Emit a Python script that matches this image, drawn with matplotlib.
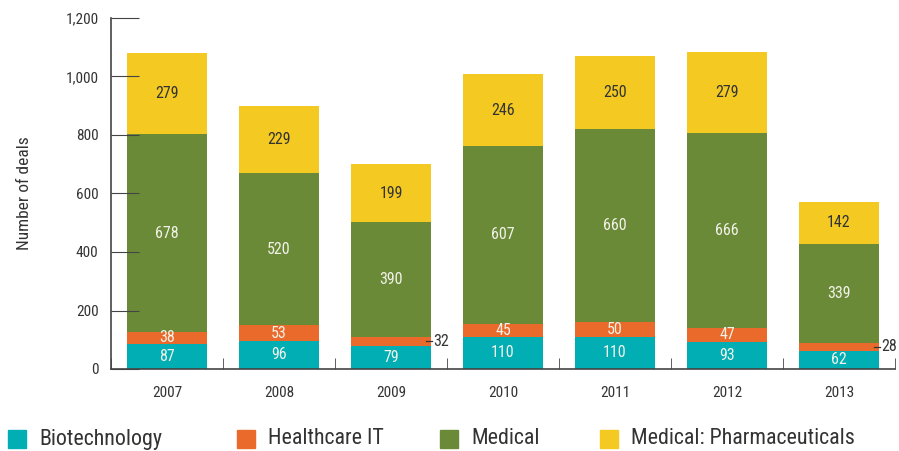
import numpy as np
import matplotlib.pyplot as plt
from matplotlib.patches import Rectangle

plt.rcParams['font.family'] = ['Roboto Condensed', 'Liberation Sans Narrow', 'Roboto', 'DejaVu Sans']

years = ['2007', '2008', '2009', '2010', '2011', '2012', '2013']
biotech = [87, 96, 79, 110, 110, 93, 62]
health_it = [38, 53, 32, 45, 50, 47, 28]
medical = [678, 520, 390, 607, 660, 666, 339]
pharma = [279, 229, 199, 246, 250, 279, 142]

series = [('Biotechnology', biotech, '#00AEB4', '#F2F2EA'),
          ('Healthcare IT', health_it, '#E96A2A', '#F2F2EA'),
          ('Medical', medical, '#6A8A37', '#F2F2EA'),
          ('Medical: Pharmaceuticals', pharma, '#F4CA22', '#333333')]

fig = plt.figure(figsize=(8.99, 4.51), dpi=100)
ax = fig.add_axes([111/899, 82/451, 784/899, 351/451])

x = np.arange(len(years))
bottom = np.zeros(len(years))
for name, vals, col, tcol in series:
    vals = np.array(vals, dtype=float)
    ax.bar(x, vals, 0.72, bottom=bottom, color=col, label=name)
    for xi, b, v in zip(x, bottom, vals):
        if v >= 35:
            ax.text(xi, b + v / 2, f'{int(v)}', ha='center', va='center',
                    color=tcol, fontsize=11.5)
        else:
            # small segment: label outside with a leader line
            ax.plot([xi + 0.31, xi + 0.37], [b + v / 2] * 2, color='#333333', lw=0.9)
            ax.text(xi + 0.38, b + v / 2, f'{int(v)}', ha='left', va='center',
                    color='#333333', fontsize=11.5)
    bottom += vals

ax.set_xlim(-0.5, 6.5)
ax.set_ylim(0, 1200)
ax.set_yticks(range(0, 1201, 200))
ax.set_yticklabels([f'{v:,}' for v in range(0, 1201, 200)], fontsize=11, color='#333333')
ax.set_xticks(x)
ax.set_xticklabels(years, fontsize=11, color='#333333')
ax.set_xticks(np.arange(-0.5, 7, 1), minor=True)
ax.tick_params(axis='x', which='major', length=0, pad=12)
ax.tick_params(axis='x', which='minor', length=8, direction='in', color='#444444')
ax.tick_params(axis='y', length=20, direction='in', color='#444444', pad=9)
for s in ['top', 'right']:
    ax.spines[s].set_visible(False)
for s in ['left', 'bottom']:
    ax.spines[s].set_color('#444444')
    ax.spines[s].set_linewidth(1.2)
ax.set_ylabel('Number of deals', fontsize=12.5, color='#333333', labelpad=24)

# legend row along the bottom
leg_x = [8, 237, 440, 600]
for (name, _, col, _), lx in zip(series, leg_x):
    fig.patches.append(Rectangle((lx / 899, 3 / 451), 18 / 899, 18 / 451,
                                 transform=fig.transFigure, color=col))
    fig.text((lx + 31) / 899, 12 / 451, name, ha='left', va='center',
             fontsize=15.8, color='#333333')

fig.savefig('out.png', dpi=100)
